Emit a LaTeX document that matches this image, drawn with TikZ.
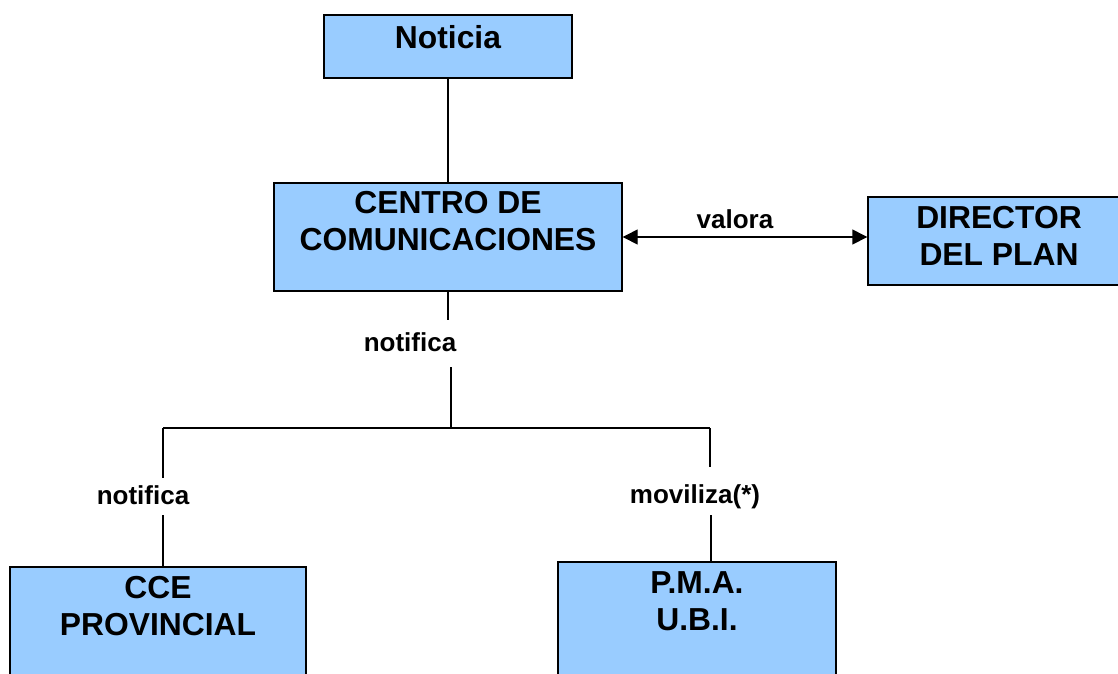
\documentclass[tikz,border=0pt]{standalone}
\usepackage{fontspec}
\setmainfont{Liberation Sans}
\usetikzlibrary{arrows.meta}
\definecolor{boxblue}{RGB}{153,204,255}
\begin{document}
\begin{tikzpicture}[x=1pt, y=-1pt,
	box/.style={draw=black, fill=boxblue, line width=1.4pt, inner sep=0pt},
	boxtext/.style={anchor=north, inner sep=0pt, align=center, font=\bfseries\fontsize{31.8}{37}\selectfont},
	linktext/.style={anchor=base, inner sep=0pt, font=\bfseries\fontsize{26}{30}\selectfont},
	link/.style={line width=1.4pt}]
	\useasboundingbox (0,0) rectangle (1118,673);
	%boxes
	\node[box, minimum width=248pt, minimum height=63pt] (noticia) at (448,46.5) {};
	\node[box, minimum width=348pt, minimum height=108pt] (centro) at (448,237) {};
	\node[box, minimum width=262pt, minimum height=88pt] (director) at (999,241) {};
	\node[box, minimum width=296pt, minimum height=133pt] (cce) at (158,633.5) {};
	\node[box, minimum width=278pt, minimum height=138pt] (pma) at (697,631) {};
	%box texts
	\node[boxtext] (noticia text) at (448,25) {Noticia};
	\node[boxtext] (centro text) at (448,191) {CENTRO DE\\COMUNICACIONES};
	\node[boxtext] (director text) at (999,206) {DIRECTOR\\DEL PLAN};
	\node[boxtext] (cce text) at (158,576) {CCE\\PROVINCIAL};
	\node[boxtext] (pma text) at (697,571) {P.M.A.\\U.B.I.};
	%connector labels
	\node[linktext] (valora) at (735,228) {valora};
	\node[linktext] (notifica top) at (410,351) {notifica};
	\node[linktext] (notifica left) at (143,504) {notifica};
	\node[linktext] (moviliza) at (695,503) {moviliza(*)};
	%junction points
	\coordinate (c1) at (448,320);
	\coordinate (c2) at (451,367);
	\coordinate (j) at (451,428);
	\coordinate (jl) at (163,428);
	\coordinate (jr) at (710,428);
	\coordinate (l1) at (163,478);
	\coordinate (l2) at (163,515);
	\coordinate (r1) at (710,467);
	\coordinate (r2) at (711,515);
	%connectors
	\draw[link] (noticia) -- (centro);
	\draw[link, {Triangle[length=15pt,width=15pt]}-{Triangle[length=15pt,width=15pt]}]
		(centro.east) -- (centro.east -| director.west);
	\draw[link] (centro.south) -- (c1);
	\draw[link] (c2) -- (j);
	\draw[link] (jl) -- (jr);
	\draw[link] (jl) -- (l1);
	\draw[link] (l2) -- (l2 |- cce.north);
	\draw[link] (jr) -- (r1);
	\draw[link] (r2) -- (r2 |- pma.north);
\end{tikzpicture}
\end{document}
